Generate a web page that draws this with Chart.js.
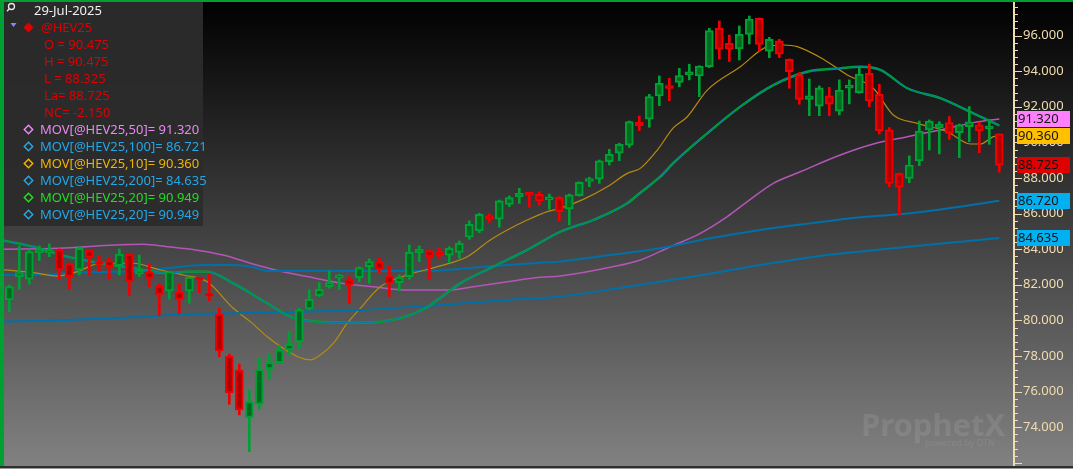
<!DOCTYPE html>
<html>
<head>
<meta charset="utf-8">
<script src="https://cdn.jsdelivr.net/npm/chart.js@4.4.1/dist/chart.umd.min.js"></script>
<style>
html, body { margin: 0; padding: 0; background: #000; }
canvas { display: block; }
</style>
</head>
<body>
<canvas id="chart" width="1073" height="469"></canvas>
<script>
// @HEV25 daily candles
const openV = [81.15, 82.46, 82.31, 83.81, 83.81, 83.99, 83.21, 82.83, 83.96, 83.30,
  83.34, 83.08, 83.73, 82.59, 82.74, 81.93, 81.65, 81.61, 81.65, 82.40,
  81.46, 80.36, 78.00, 77.21, 74.55, 75.30, 77.27, 77.63, 78.34, 78.79,
  80.64, 81.39, 81.90, 82.42, 82.31, 82.40, 83.02, 83.30, 82.50, 82.12,
  82.46, 83.81, 83.92, 83.84, 83.67, 83.82, 84.67, 85.02, 85.87, 85.68,
  86.52, 86.95, 87.14, 87.08, 86.80, 86.91, 86.26, 87.01, 87.83, 87.93,
  88.92, 89.39, 89.85, 91.13, 91.30, 92.61, 93.17, 93.37, 93.79, 93.73,
  94.25, 96.41, 95.57, 95.25, 96.07, 96.97, 95.13, 95.70, 94.67, 93.79,
  92.42, 92.04, 92.61, 91.76, 93.04, 92.79, 93.88, 92.70, 90.70, 88.26,
  87.98, 88.96, 90.70, 90.83, 91.11, 90.55, 90.88, 90.98, 90.80, 90.475];
const highV = [81.99, 84.18, 83.96, 84.18, 84.29, 84.02, 83.23, 84.14, 83.98, 83.62,
  83.54, 84.01, 83.75, 83.67, 83.21, 82.08, 82.76, 82.05, 82.44, 82.42,
  82.64, 80.70, 78.11, 77.55, 76.09, 77.91, 78.15, 78.58, 79.37, 80.68,
  81.71, 82.12, 82.78, 82.59, 82.46, 83.02, 83.45, 83.54, 83.09, 82.55,
  84.24, 84.18, 83.95, 84.10, 84.14, 84.46, 85.59, 86.02, 85.98, 86.76,
  86.99, 87.42, 87.16, 87.23, 87.10, 86.95, 87.10, 87.78, 88.04, 89.01,
  89.61, 89.95, 91.20, 91.48, 92.70, 93.73, 93.60, 94.16, 94.39, 94.31,
  96.41, 96.82, 96.03, 96.54, 97.10, 96.99, 95.90, 95.79, 94.69, 93.92,
  93.56, 93.17, 93.09, 93.51, 93.51, 94.25, 94.40, 93.26, 90.83, 88.28,
  89.24, 91.20, 91.26, 91.16, 91.45, 91.03, 92.01, 91.13, 91.22, 90.475];
const lowV = [80.49, 81.75, 82.03, 83.36, 83.58, 82.31, 81.75, 82.55, 82.55, 82.74,
  82.33, 82.55, 81.39, 82.46, 81.90, 80.27, 81.20, 80.40, 80.96, 81.56,
  81.11, 77.96, 75.29, 74.69, 72.63, 75.02, 76.69, 77.60, 78.06, 78.43,
  80.59, 81.33, 81.80, 81.75, 80.96, 82.18, 82.08, 82.68, 81.34, 81.67,
  82.31, 83.30, 82.31, 83.49, 83.24, 83.49, 84.55, 84.93, 85.51, 85.23,
  86.39, 86.58, 86.35, 86.48, 86.24, 85.60, 85.36, 86.98, 87.51, 87.70,
  88.73, 88.97, 89.72, 90.66, 90.85, 92.06, 92.34, 93.13, 93.51, 92.57,
  94.20, 94.69, 94.54, 94.63, 95.53, 95.13, 94.76, 94.76, 93.04, 92.14,
  91.50, 91.50, 91.50, 91.54, 92.16, 92.76, 92.01, 90.47, 87.51, 85.92,
  87.74, 88.69, 89.57, 89.35, 90.17, 89.14, 90.04, 89.42, 89.89, 88.325];
const closeV = [81.90, 82.68, 83.86, 83.99, 83.92, 82.83, 82.46, 84.05, 83.54, 83.15,
  83.02, 83.73, 82.18, 82.83, 82.36, 81.46, 82.74, 81.18, 82.42, 82.31,
  81.41, 78.28, 75.94, 74.97, 75.44, 77.25, 77.64, 78.34, 78.66, 80.59,
  81.18, 81.75, 82.12, 82.50, 81.99, 82.96, 83.30, 82.87, 82.08, 82.42,
  83.82, 83.99, 83.58, 83.67, 84.05, 84.33, 85.40, 85.96, 85.73, 86.71,
  86.90, 87.14, 87.08, 86.71, 86.91, 86.11, 87.05, 87.76, 87.93, 88.96,
  89.33, 89.89, 91.17, 90.94, 92.57, 93.32, 93.06, 93.75, 93.97, 94.29,
  96.28, 95.23, 95.23, 96.07, 96.93, 95.51, 95.79, 94.95, 93.97, 92.42,
  92.61, 93.07, 92.14, 92.94, 93.22, 93.84, 92.33, 90.66, 87.70, 87.48,
  88.73, 90.64, 91.20, 91.03, 90.51, 90.98, 91.16, 90.64, 90.875, 88.725];

// moving averages, sampled at candle positions
const ma10Idx = [-0.9, 2.4, 4.8, 6.8, 9.1, 12.4, 15.1, 17.4, 19.8, 22.4, 24.1, 25.8, 27.4, 29.1, 30.1, 31.1, 32.4, 33.8,
  35.1, 37.1, 39.8, 43.1, 45.8, 48.1, 49.8, 51.8, 53.8, 55.1, 57.4, 59.8, 61.8, 63.1, 64.8, 66.4, 67.8, 69.8,
  73.1, 75.8, 77.4, 78.8, 81.4, 83.8, 86.4, 88.4, 90.8, 93.8, 96.1, 97.1, 98.4, 99];
const ma10Val = [82.87, 82.68, 82.49, 82.74, 83.21, 83.21, 82.83, 82.55, 82.17, 80.68, 79.93, 79.08, 78.43, 77.90, 77.78, 78.06, 78.71, 79.84,
  80.68, 81.89, 82.55, 83.06, 83.58, 84.52, 85.08, 85.64, 86.11, 86.30, 86.80, 87.51, 88.26, 88.54, 89.57, 90.81, 91.44, 92.94,
  94.25, 95.38, 95.47, 95.38, 94.67, 93.79, 93.04, 91.54, 91.07, 90.60, 89.91, 89.91, 90.32, 90.36];

const ma20Idx = [-0.9, 2.4, 5.8, 9.1, 12.4, 15.8, 17.8, 19.8, 22.4, 25.8, 28.1, 30.8, 35.1, 39.1, 41.6, 42.8, 45.1, 48.4,
  51.8, 55.1, 58.4, 61.8, 63.1, 65.1, 66.4, 69.8, 73.1, 76.4, 79.8, 83.1, 85.1, 87.1, 89.8, 93.1, 96.4, 99];
const ma20Val = [84.52, 84.14, 83.58, 83.21, 82.93, 82.65, 82.74, 82.74, 82.08, 80.96, 80.21, 79.93, 79.87, 80.13, 80.68, 81.15, 82.08, 83.02,
  83.96, 84.98, 85.64, 86.58, 87.17, 88.07, 88.83, 90.51, 92.01, 93.22, 93.97, 94.16, 94.25, 94.07, 93.04, 92.48, 91.63, 90.949];

const ma50Idx = [-0.9, 5, 10, 13.4, 15.8, 18.6, 21.4, 24.1, 26.6, 29.8, 33.1, 36.4, 39.8, 44.1, 46.4, 49.8, 53.1, 55.1,
  60.1, 63.1, 66.1, 69.1, 71.8, 73.8, 76.4, 79.1, 83.1, 86.4, 89.8, 93.1, 96.4, 99];
const ma50Val = [84.0, 84.05, 84.22, 84.28, 84.14, 83.96, 83.67, 83.21, 82.83, 82.46, 82.1, 81.89, 81.71, 81.71, 81.89, 82.17, 82.42, 82.49,
  82.98, 83.39, 84.14, 84.89, 85.83, 86.67, 87.70, 88.35, 89.29, 89.91, 90.32, 90.70, 91.11, 91.32];

const ma100Idx = [-0.9, 4.8, 5.8, 12.4, 17.8, 19.8, 22.4, 24.4, 25.8, 35.1, 41.8, 46.4, 49.8, 53.1, 55.1, 60.1, 65.1, 70.1,
  75.1, 80.1, 85.1, 90.1, 95.1, 99];
const ma100Val = [82.55, 82.59, 82.68, 82.74, 83.06, 83.11, 83.11, 82.98, 82.78, 82.78, 82.78, 82.96, 83.11, 83.24, 83.31, 83.67, 84.05, 84.61,
  85.08, 85.45, 85.79, 86.02, 86.39, 86.721];

const ma200Idx = [-0.9, 5.8, 12.4, 17.4, 22.4, 29.1, 35.1, 43.1, 49.8, 55.1, 61.8, 68.4, 75.1, 81.8, 88.4, 95.1, 99];
const ma200Val = [79.93, 80.02, 80.17, 80.34, 80.40, 80.49, 80.58, 80.87, 81.15, 81.34, 81.89, 82.46, 83.11, 83.67, 84.05, 84.42, 84.635];

// last values shown as tags on the price axis
const tagValues = [91.320, 90.360, 88.725, 86.720, 84.635];
const tagColors = ['#ff80ff', '#ffc000', '#e00000', '#00b0f0', '#00b0f0'];

const legendLines = [
  { text: 'O = 90.475', color: '#e00000' },
  { text: 'H = 90.475', color: '#e00000' },
  { text: 'L = 88.325', color: '#e00000' },
  { text: 'La= 88.725', color: '#e00000' },
  { text: 'NC= -2.150', color: '#e00000' },
  { text: 'MOV[@HEV25,50]= 91.320', color: '#e58af0', mark: '#e58af0' },
  { text: 'MOV[@HEV25,100]= 86.721', color: '#22a8e8', mark: '#22a8e8' },
  { text: 'MOV[@HEV25,10]= 90.360', color: '#f0b400', mark: '#f0b400' },
  { text: 'MOV[@HEV25,200]= 84.635', color: '#22a8e8', mark: '#22a8e8' },
  { text: 'MOV[@HEV25,20]= 90.949', color: '#22dd22', mark: '#22dd22' },
  { text: 'MOV[@HEV25,20]= 90.949', color: '#22a8e8', mark: '#22a8e8' }
];

const FONT = '"Noto Sans", "Open Sans", sans-serif';
const UP_EDGE = '#00a035', UP_FILL = '#006a22';
const DN_EDGE = '#f00000', DN_FILL = '#ae0000';

const isUp = openV.map((o, i) => closeV[i] >= o);
const wickData = openV.map((o, i) => ({ x: i, y: [lowV[i], highV[i]] }));
const bodyData = openV.map((o, i) => {
    let lo = Math.min(o, closeV[i]);
    let hi = Math.max(o, closeV[i]);
    if (hi - lo < 0.16) {
        const m = (hi + lo) / 2;
        lo = m - 0.08;
        hi = m + 0.08;
    }
    return { x: i, y: [lo, hi] };
});
const pts = (xs, ys) => xs.map((x, k) => ({ x: x, y: ys[k] }));

function maLine(label, xs, ys, color, width, order) {
    return {
        type: 'line',
        label: label,
        data: pts(xs, ys),
        borderColor: color,
        borderWidth: width,
        pointRadius: 0,
        cubicInterpolationMode: 'monotone',
        order: order
    };
}

// Fundo em degradê
const bgPlugin = {
    id: 'bg',
    beforeDraw(chart) {
        const c = chart.ctx;
        const g = c.createLinearGradient(0, 0, 0, chart.height);
        g.addColorStop(0, '#000000');
        g.addColorStop(1, '#828282');
        c.save();
        c.fillStyle = g;
        c.fillRect(0, 0, chart.width, chart.height);
        c.restore();
    }
};

function diamond(c, x, y, r, fill, color) {
    c.beginPath();
    c.moveTo(x, y - r);
    c.lineTo(x + r, y);
    c.lineTo(x, y + r);
    c.lineTo(x - r, y);
    c.closePath();
    if (fill) { c.fillStyle = color; c.fill(); }
    else { c.strokeStyle = color; c.lineWidth = 1.5; c.stroke(); }
}

const overlayPlugin = {
    id: 'overlay',
    afterDraw(chart) {
        const c = chart.ctx;
        const ys = chart.scales.y;
        const area = chart.chartArea;
        c.save();

        // minor / major ticks on the price axis
        c.strokeStyle = '#f0dcb0';
        c.lineWidth = 1;
        for (let k = Math.ceil(ys.min / 0.4); k * 0.4 <= ys.max; k++) {
            const v = k * 0.4;
            const py = Math.round(ys.getPixelForValue(v)) + 0.5;
            const major = k % 5 === 0;
            c.beginPath();
            c.moveTo(area.right, py);
            c.lineTo(area.right + (major ? 8 : 4), py);
            c.stroke();
        }

        // value tags
        c.font = '13px ' + FONT;
        c.textBaseline = 'middle';
        c.textAlign = 'left';
        tagValues.forEach((v, k) => {
            const py = ys.getPixelForValue(v);
            c.fillStyle = tagColors[k];
            c.fillRect(area.right + 3, Math.round(py) - 8, 53, 16);
            c.fillStyle = '#141414';
            c.fillText(v.toFixed(3), area.right + 4, py + 0.5);
        });

        // watermark
        c.fillStyle = 'rgba(255,255,255,0.09)';
        c.font = 'bold 31px ' + FONT;
        c.fillText('ProphetX', 861, 427);
        c.font = '9px ' + FONT;
        c.fillText('powered by DTN', 925, 443);

        // info box
        c.fillStyle = 'rgba(44,44,44,0.96)';
        c.fillRect(3, 2, 200, 224);

        // magnifier
        c.strokeStyle = '#e8e8e8';
        c.lineWidth = 1.3;
        c.beginPath();
        c.arc(11.5, 6.5, 3, 0, Math.PI * 2);
        c.stroke();
        c.beginPath();
        c.moveTo(9.3, 8.8);
        c.lineTo(7, 11.2);
        c.stroke();

        c.font = '13px ' + FONT;
        c.fillStyle = '#f0f0f0';
        c.fillText('29-Jul-2025', 34, 11);

        // triangle + red diamond + symbol
        c.fillStyle = '#8888ff';
        c.beginPath();
        c.moveTo(10.5, 23);
        c.lineTo(16.5, 23);
        c.lineTo(13.5, 27);
        c.closePath();
        c.fill();
        diamond(c, 28.5, 27.5, 5, true, '#e00000');
        c.fillStyle = '#e00000';
        c.fillText('@HEV25', 41, 28);

        legendLines.forEach((ln, k) => {
            const py = 45 + k * 17;
            c.fillStyle = ln.color;
            if (ln.mark) {
                diamond(c, 28.5, py - 0.5, 4.2, false, ln.mark);
                c.fillStyle = ln.color;
                c.fillText(ln.text, 40, py);
            } else {
                c.fillText(ln.text, 44, py);
            }
        });

        // bordas
        c.fillStyle = '#00a032';
        c.fillRect(0, 0, 4, chart.height);
        c.fillRect(0, 0, chart.width, 2);
        c.fillStyle = '#2e2e2e';
        c.fillRect(0, area.bottom, chart.width, 2);
        c.fillStyle = '#9a9a9a';
        c.fillRect(0, area.bottom + 2, chart.width, 2);
        c.restore();
    }
};

const ctx = document.getElementById('chart').getContext('2d');

new Chart(ctx, {
    type: 'bar',
    data: {
        datasets: [
            {
                label: 'body',
                data: bodyData,
                grouped: false,
                barThickness: 8,
                borderWidth: 2,
                borderSkipped: false,
                backgroundColor: isUp.map(u => u ? UP_FILL : DN_FILL),
                borderColor: isUp.map(u => u ? UP_EDGE : DN_EDGE),
                order: 0
            },
            {
                label: 'wick',
                data: wickData,
                grouped: false,
                barThickness: 2,
                borderWidth: 0,
                backgroundColor: isUp.map(u => u ? UP_EDGE : DN_EDGE),
                order: 1
            },
            maLine('MOV20 b', ma20Idx, ma20Val, '#0078b0', 1, 2),
            maLine('MOV20', ma20Idx, ma20Val, '#00a832', 2.4, 3),
            maLine('MOV200', ma200Idx, ma200Val, '#0070a8', 2, 4),
            maLine('MOV10', ma10Idx, ma10Val, '#b88a10', 1.2, 5),
            maLine('MOV100', ma100Idx, ma100Val, '#0070a8', 2, 6),
            maLine('MOV50', ma50Idx, ma50Val, '#b455b8', 1.5, 7)
        ]
    },
    options: {
        responsive: false,
        animation: false,
        layout: { padding: { top: 3, bottom: 3, left: 0, right: 0 } },
        plugins: {
            legend: { display: false },
            tooltip: { enabled: false }
        },
        scales: {
            x: {
                type: 'linear',
                min: -0.93,
                max: 100.47,
                offset: false,
                display: false
            },
            y: {
                position: 'right',
                min: 71.82,
                max: 97.83,
                afterFit: s => {
                    s.width = 59;
                    s.paddingTop = 0;
                    s.paddingBottom = 0;
                },
                grid: { drawOnChartArea: false, drawTicks: false },
                border: { color: '#f0dcb0', width: 2 },
                ticks: {
                    stepSize: 2,
                    includeBounds: false,
                    padding: 9,
                    color: '#f0dcb0',
                    font: { family: FONT, size: 13 },
                    callback: v => v > 73 ? v.toFixed(3) : ''
                }
            }
        }
    },
    plugins: [bgPlugin, overlayPlugin]
});
</script>
</body>
</html>
